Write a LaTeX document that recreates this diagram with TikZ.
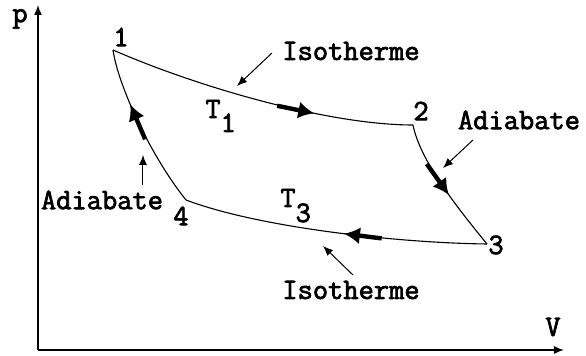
\documentclass[tikz,border=0pt]{standalone}
\usepackage{fontspec}
\newfontfamily\labfont{Latin Modern Mono}[FakeBold=2.5]
\usetikzlibrary{arrows.meta,decorations.markings}
\tikzset{
    lab/.style={
        font=\labfont\bfseries\fontsize{14.8}{17}\selectfont,
        inner sep=0pt
    },
    axis/.style={line width=0.75pt,-{Latex[length=5pt,width=4pt]}},
    curve/.style={line width=0.55pt},
    ann/.style={line width=0.5pt,-{Latex[length=5pt,width=4pt]}},
    flow/.style={
        postaction={decorate},
        decoration={markings,
            mark=at position #1 with {
                \draw[line width=2.2pt,-{Latex[length=8pt,width=8.5pt]}] (-19pt,0) -- (0,0);
            }
        }
    }
}
\begin{document}
\begin{tikzpicture}[x=0.5pt,y=-0.5pt]
\useasboundingbox (0,0) rectangle (586,356);

% axes
\coordinate (O) at (38,350);
\coordinate (ptop) at (38,5);
\coordinate (vend) at (564,350);
\draw[axis] (O) -- (ptop);
\draw[axis] (O) -- (vend);
\node[lab] (p) at (20,19) {p};
\node[lab] (V) at (553,327) {V};

% corner points
\coordinate (p1) at (113,50);
\coordinate (p2) at (413,125);
\coordinate (p3) at (487,244);
\coordinate (p4) at (186,200);

\node[lab] (n1) at (121,37) {1};
\node[lab] (n2) at (421,111) {2};
\node[lab] (n3) at (496,245) {3};
\node[lab] (n4) at (181,216) {4};

% cycle
\draw[curve,flow=0.68] (p1) .. controls (200,88) and (330,125) .. (p2);
\draw[curve,flow=0.56] (p2) .. controls (420,160) and (455,205) .. (p3);
\draw[curve,flow=0.47] (p3) .. controls (400,243) and (260,228) .. (p4);
\draw[curve,flow=0.66] (p4) .. controls (150,155) and (118,85) .. (p1);

% temperatures
\node[lab,anchor=base west] (T1) at (205,118) {T\raisebox{-7pt}{1}};
\node[lab,anchor=base west] (T3) at (280,207) {T\raisebox{-7.5pt}{3}};

% annotations
\node[lab] (isoTop) at (351,51) {Isotherme};
\node[lab] (adiR) at (519,120) {Adiabate};
\node[lab] (adiL) at (102,200) {Adiabate};
\node[lab] (isoBot) at (351,290) {Isotherme};

\coordinate (a1s) at (272,53);
\coordinate (a1e) at (237,86);
\coordinate (a2s) at (473,140);
\coordinate (a2e) at (443,168);
\coordinate (a3s) at (143,185);
\coordinate (a3e) at (143,155);
\coordinate (a4s) at (353,275);
\coordinate (a4e) at (323,246);
\draw[ann] (a1s) -- (a1e);
\draw[ann] (a2s) -- (a2e);
\draw[ann] (a3s) -- (a3e);
\draw[ann] (a4s) -- (a4e);
\end{tikzpicture}
\end{document}
